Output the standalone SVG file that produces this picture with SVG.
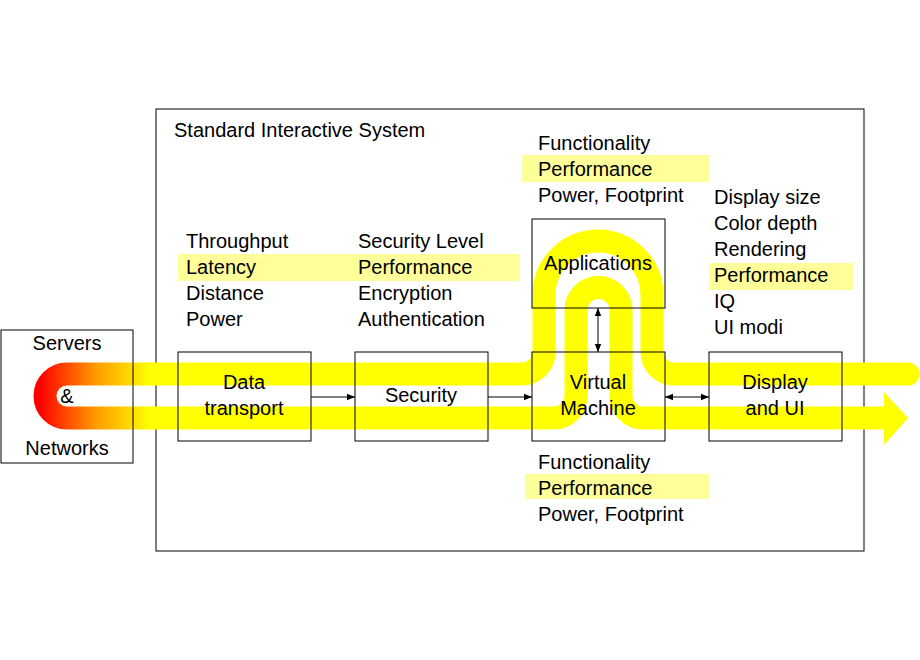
<svg xmlns="http://www.w3.org/2000/svg" width="920" height="660" viewBox="0 0 920 660">
<style>
text{font-family:"Liberation Sans",Arial,sans-serif;font-size:20px;fill:#000}
.c{text-anchor:middle}
.box{fill:none;stroke:#000;stroke-width:1}
.hl{fill:#ffff99}
.flow{fill:none;stroke:#ffff00;stroke-width:23}
.ln{stroke:#000;stroke-width:1;fill:none}
</style>
<defs>
<linearGradient id="g" gradientUnits="userSpaceOnUse" x1="40" y1="0" x2="150" y2="0">
<stop offset="0" stop-color="#ff0000"/><stop offset="0.5" stop-color="#ff9900"/><stop offset="1" stop-color="#ffff00"/>
</linearGradient>
<marker id="a" viewBox="0 0 10 10" refX="10" refY="5" markerWidth="10" markerHeight="8" markerUnits="userSpaceOnUse" orient="auto-start-reverse"><path d="M0,1 L10,5 L0,9 z" fill="#000"/></marker>
</defs>
<rect x="156" y="109" width="708" height="442" class="box"/>
<text x="174" y="137">Standard Interactive System</text>
<g id="highlights">
<rect class="hl" x="178" y="254" width="177" height="27"/>
<rect class="hl" x="355" y="254" width="165" height="27"/>
<rect class="hl" x="522" y="155" width="187" height="27"/>
<rect class="hl" x="525" y="474" width="184" height="25"/>
<rect class="hl" x="709" y="263" width="144" height="27"/>
</g>
<g id="flows">
<path class="flow" d="M150,374 H522 A22,22 0 0 0 544,352 V295 A54,54 0 0 1 652,295 V352 A22,22 0 0 0 674,374 H908" stroke-linecap="round"/>
<path class="flow" d="M150,418 H554 A22,22 0 0 0 576,396 V310 A22.5,22.5 0 0 1 621,310 V396 A22,22 0 0 0 643,418 H884"/>
<path d="M884,392 L908,418 L884,445 z" fill="#ffff00"/>
<path d="M151,374 H67 A22,22 0 0 0 67,418 H151" fill="none" stroke="url(#g)" stroke-width="23"/>
</g>
<g id="servers"><rect class="box" x="1" y="330" width="132" height="133"/>
<text class="c" x="67" y="350">Servers</text><text class="c" x="67" y="403">&amp;</text><text class="c" x="67" y="455">Networks</text></g>
<g id="datatransport"><rect class="box" x="178" y="352" width="133" height="89"/>
<text class="c" x="244" y="389">Data</text><text class="c" x="244" y="415">transport</text></g>
<g id="security"><rect class="box" x="355" y="352" width="133" height="89"/>
<text class="c" x="421" y="402">Security</text></g>
<g id="vm"><rect class="box" x="532" y="352" width="133" height="89"/>
<text class="c" x="598" y="389">Virtual</text><text class="c" x="598" y="415">Machine</text></g>
<g id="apps"><rect class="box" x="532" y="219" width="133" height="89"/>
<text class="c" x="598" y="270">Applications</text></g>
<g id="display"><rect class="box" x="709" y="352" width="133" height="89"/>
<text class="c" x="775" y="389">Display</text><text class="c" x="775" y="415">and UI</text></g>
<g id="connectors">
<line class="ln" x1="311" y1="397" x2="355" y2="397" marker-end="url(#a)"/>
<line class="ln" x1="488" y1="397" x2="532" y2="397" marker-end="url(#a)"/>
<line class="ln" x1="665" y1="397" x2="709" y2="397" marker-start="url(#a)" marker-end="url(#a)"/>
<line class="ln" x1="598" y1="308" x2="598" y2="352" marker-start="url(#a)" marker-end="url(#a)"/>
</g>
<g id="labels">
<text x="186" y="248">Throughput</text><text x="186" y="274">Latency</text><text x="186" y="300">Distance</text><text x="186" y="326">Power</text>
<text x="358" y="248">Security Level</text><text x="358" y="274">Performance</text><text x="358" y="300">Encryption</text><text x="358" y="326">Authentication</text>
<text x="538" y="150">Functionality</text><text x="538" y="176">Performance</text><text x="538" y="202">Power, Footprint</text>
<text x="538" y="469">Functionality</text><text x="538" y="495">Performance</text><text x="538" y="521">Power, Footprint</text>
<text x="714" y="204">Display size</text><text x="714" y="230">Color depth</text><text x="714" y="256">Rendering</text><text x="714" y="282">Performance</text><text x="714" y="308">IQ</text><text x="714" y="334">UI modi</text>
</g>
</svg>
